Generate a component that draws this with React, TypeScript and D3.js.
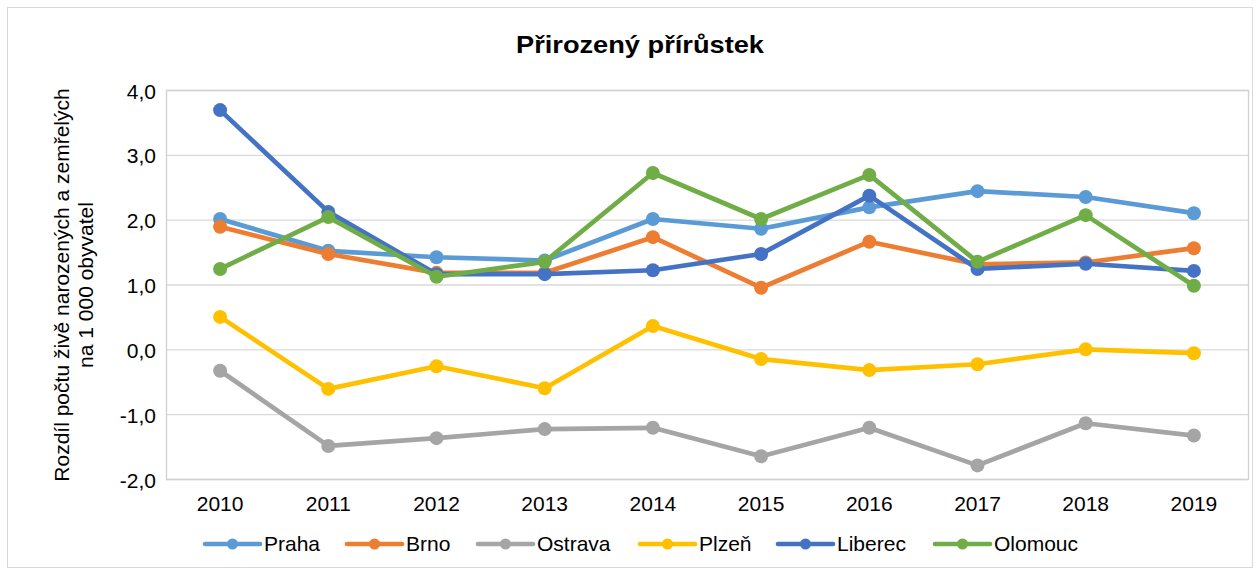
import React from 'react';
import * as d3 from 'd3';

const years = ['2010', '2011', '2012', '2013', '2014', '2015', '2016', '2017', '2018', '2019'];
const praha = [2.01, 1.52, 1.42, 1.37, 2.01, 1.86, 2.19, 2.44, 2.35, 2.1];
const brno = [1.89, 1.47, 1.18, 1.18, 1.73, 0.95, 1.66, 1.31, 1.34, 1.56];
const ostrava = [-0.33, -1.49, -1.37, -1.23, -1.21, -1.65, -1.21, -1.79, -1.14, -1.33];
const plzen = [0.5, -0.61, -0.26, -0.6, 0.36, -0.15, -0.32, -0.23, 0.0, -0.06];
const liberec = [3.69, 2.12, 1.16, 1.16, 1.22, 1.47, 2.37, 1.24, 1.32, 1.21];
const olomouc = [1.24, 2.04, 1.12, 1.35, 2.72, 2.01, 2.69, 1.35, 2.07, 0.98];
const yTicks = [-2, -1, 0, 1, 2, 3, 4];

const series = [
  { name: 'Praha', values: praha, color: '#5B9BD5' },
  { name: 'Brno', values: brno, color: '#ED7D31' },
  { name: 'Ostrava', values: ostrava, color: '#A5A5A5' },
  { name: 'Plzeň', values: plzen, color: '#FFC000' },
  { name: 'Liberec', values: liberec, color: '#4472C4' },
  { name: 'Olomouc', values: olomouc, color: '#70AD47' },
];

const W = 1258;
const H = 573;
const plot = { left: 166, right: 1248, top: 90, bottom: 479 };
const font = '"Liberation Sans", Arial, sans-serif';

export default function App() {
  const x = d3.scaleBand().domain(years).range([plot.left, plot.right]);
  const y = d3.scaleLinear().domain([-2, 4]).range([plot.bottom, plot.top]);
  const cx = (yr: string) => (x(yr) as number) + x.bandwidth() / 2;

  const line = d3
    .line<number>()
    .x((_, i) => cx(years[i]))
    .y((d) => y(d));

  const fmt = (v: number) => d3.format('.1f')(v).replace('.', ',').replace('−', '-');

  // legend item start positions
  const legendX = [205, 347, 478, 640, 778, 935];
  const legendY = 544;

  return (
    <svg width={W} height={H} style={{ position: 'absolute', left: 0, top: 0 }} fontFamily={font}>
      <rect x={0} y={0} width={W} height={H} fill="#fff" />
      <rect x={7.5} y={7.5} width={1245} height={560} fill="#fff" stroke="#d9d9d9" />

      <text
        x={640}
        y={53}
        textAnchor="middle"
        fontSize={24}
        fontWeight="bold"
        fill="#000"
        textLength={248}
        lengthAdjust="spacingAndGlyphs"
      >
        Přirozený přírůstek
      </text>

      {yTicks.map((t) => (
        <g key={t}>
          <line x1={plot.left} x2={plot.right} y1={y(t) + 0.5} y2={y(t) + 0.5} stroke="#d9d9d9" strokeWidth={1.3} />
          <text x={156} y={y(t) + 8.5} textAnchor="end" fontSize={21} fill="#000">
            {fmt(t)}
          </text>
        </g>
      ))}
      <rect
        x={plot.left + 0.5}
        y={plot.top + 0.5}
        width={plot.right - plot.left}
        height={plot.bottom - plot.top}
        fill="none"
        stroke="#d0d0d0"
        strokeWidth={1.3}
      />

      {years.map((yr) => (
        <text key={yr} x={cx(yr)} y={511} textAnchor="middle" fontSize={21} fill="#000">
          {yr}
        </text>
      ))}

      <text transform="translate(69,285) rotate(-90)" textAnchor="middle" fontSize={21} fill="#000">
        Rozdíl počtu živě narozených a zemřelých
      </text>
      <text transform="translate(93,285) rotate(-90)" textAnchor="middle" fontSize={21} fill="#000">
        na 1 000 obyvatel
      </text>

      {series.map((s) => (
        <g key={s.name}>
          <path d={line(s.values) as string} fill="none" stroke={s.color} strokeWidth={4.7} strokeLinejoin="round" />
          {s.values.map((v, i) => (
            <circle key={i} cx={cx(years[i])} cy={y(v)} r={7} fill={s.color} />
          ))}
        </g>
      ))}

      {series.map((s, i) => (
        <g key={s.name} transform={`translate(${legendX[i]},${legendY})`}>
          <line x1={0} x2={55} y1={0} y2={0} stroke={s.color} strokeWidth={4.7} strokeLinecap="round" />
          <circle cx={27.5} cy={0} r={5.5} fill={s.color} />
          <text x={59} y={7} fontSize={21} fill="#000">
            {s.name}
          </text>
        </g>
      ))}
    </svg>
  );
}
